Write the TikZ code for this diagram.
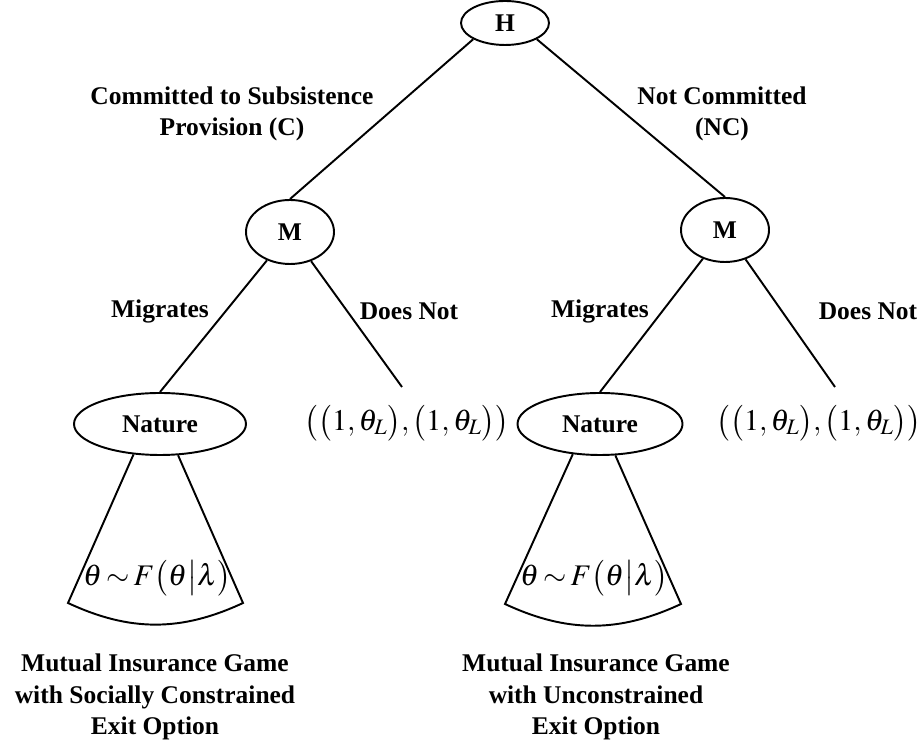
\documentclass[tikz,border=0pt]{standalone}
\usepackage{mathptmx}
\usepackage{fontspec}
\setmainfont{Liberation Serif}
\usetikzlibrary{shapes.geometric,positioning}

\begin{document}
\begin{tikzpicture}[line width=1.1pt,
    every node/.style={font=\fontsize{14.5}{18}\selectfont\bfseries,align=center},
    dnode/.style={draw,ellipse,inner sep=0pt},
    mth/.style={font=\fontsize{17}{20}\selectfont,inner sep=0pt}]
    \useasboundingbox(0,0)rectangle(18.48,15.02);
    % decision nodes
    \node[dnode,minimum width=1.76cm,minimum height=0.88cm](H)at(10.10,14.56){H};
    \node[dnode,minimum width=1.76cm,minimum height=1.28cm](M1)at(5.80,10.38){M};
    \node[dnode,minimum width=1.76cm,minimum height=1.28cm](M2)at(14.50,10.42){M};
    \node[dnode,minimum width=3.44cm,minimum height=1.24cm](N1)at(3.20,6.54){Nature};
    \node[dnode,minimum width=3.30cm,minimum height=1.24cm](N2)at(12.00,6.54){Nature};
    % payoffs
    \node[mth](P1)at(8.14,6.56){$\bigl(\bigl(1,\theta_L\bigr),\bigl(1,\theta_L\bigr)\bigr)$};
    \node[mth](P2)at(16.38,6.56){$\bigl(\bigl(1,\theta_L\bigr),\bigl(1,\theta_L\bigr)\bigr)$};
    \coordinate(E1)at(8.04,7.28);
    \coordinate(E2)at(16.70,7.28);
    % branches
    \draw(H.south west)--(M1.north) (H.south east)--(M2.north);
    \draw(M1)--(N1.north) (M1)--(E1);
    \draw(M2)--(N2.north) (M2)--(E2);
    \node(C)at(4.64,12.74){Committed to Subsistence\\Provision (C)};
    \node(NC)at(14.44,12.74){Not Committed\\(NC)};
    \node(MG1)at(3.20,8.80){Migrates};
    \node(DN1)at(8.18,8.80){Does Not};
    \node(MG2)at(12.00,8.80){Migrates};
    \node(DN2)at(17.36,8.80){Does Not};
    % nature fans
    \coordinate(F1)at(1.36,2.96);
    \coordinate(F2)at(4.86,2.96);
    \coordinate(F3)at(10.10,2.94);
    \coordinate(F4)at(13.62,2.94);
    \draw(N1.229)--(F1) to[bend right=25] (F2)--(N1.300);
    \draw(N2.228)--(F3) to[bend right=25] (F4)--(N2.296);
    \node[mth](T1)at(3.14,3.46){$\theta\mathbin{\sim}F\bigl(\theta\big|\lambda\bigr)$};
    \node[mth](T2)at(11.88,3.46){$\theta\mathbin{\sim}F\bigl(\theta\big|\lambda\bigr)$};
    \node(G1)at(3.10,1.08){Mutual Insurance Game\\with Socially Constrained\\Exit Option};
    \node(G2)at(11.92,1.08){Mutual Insurance Game\\with Unconstrained\\Exit Option};
\end{tikzpicture}
\end{document}
